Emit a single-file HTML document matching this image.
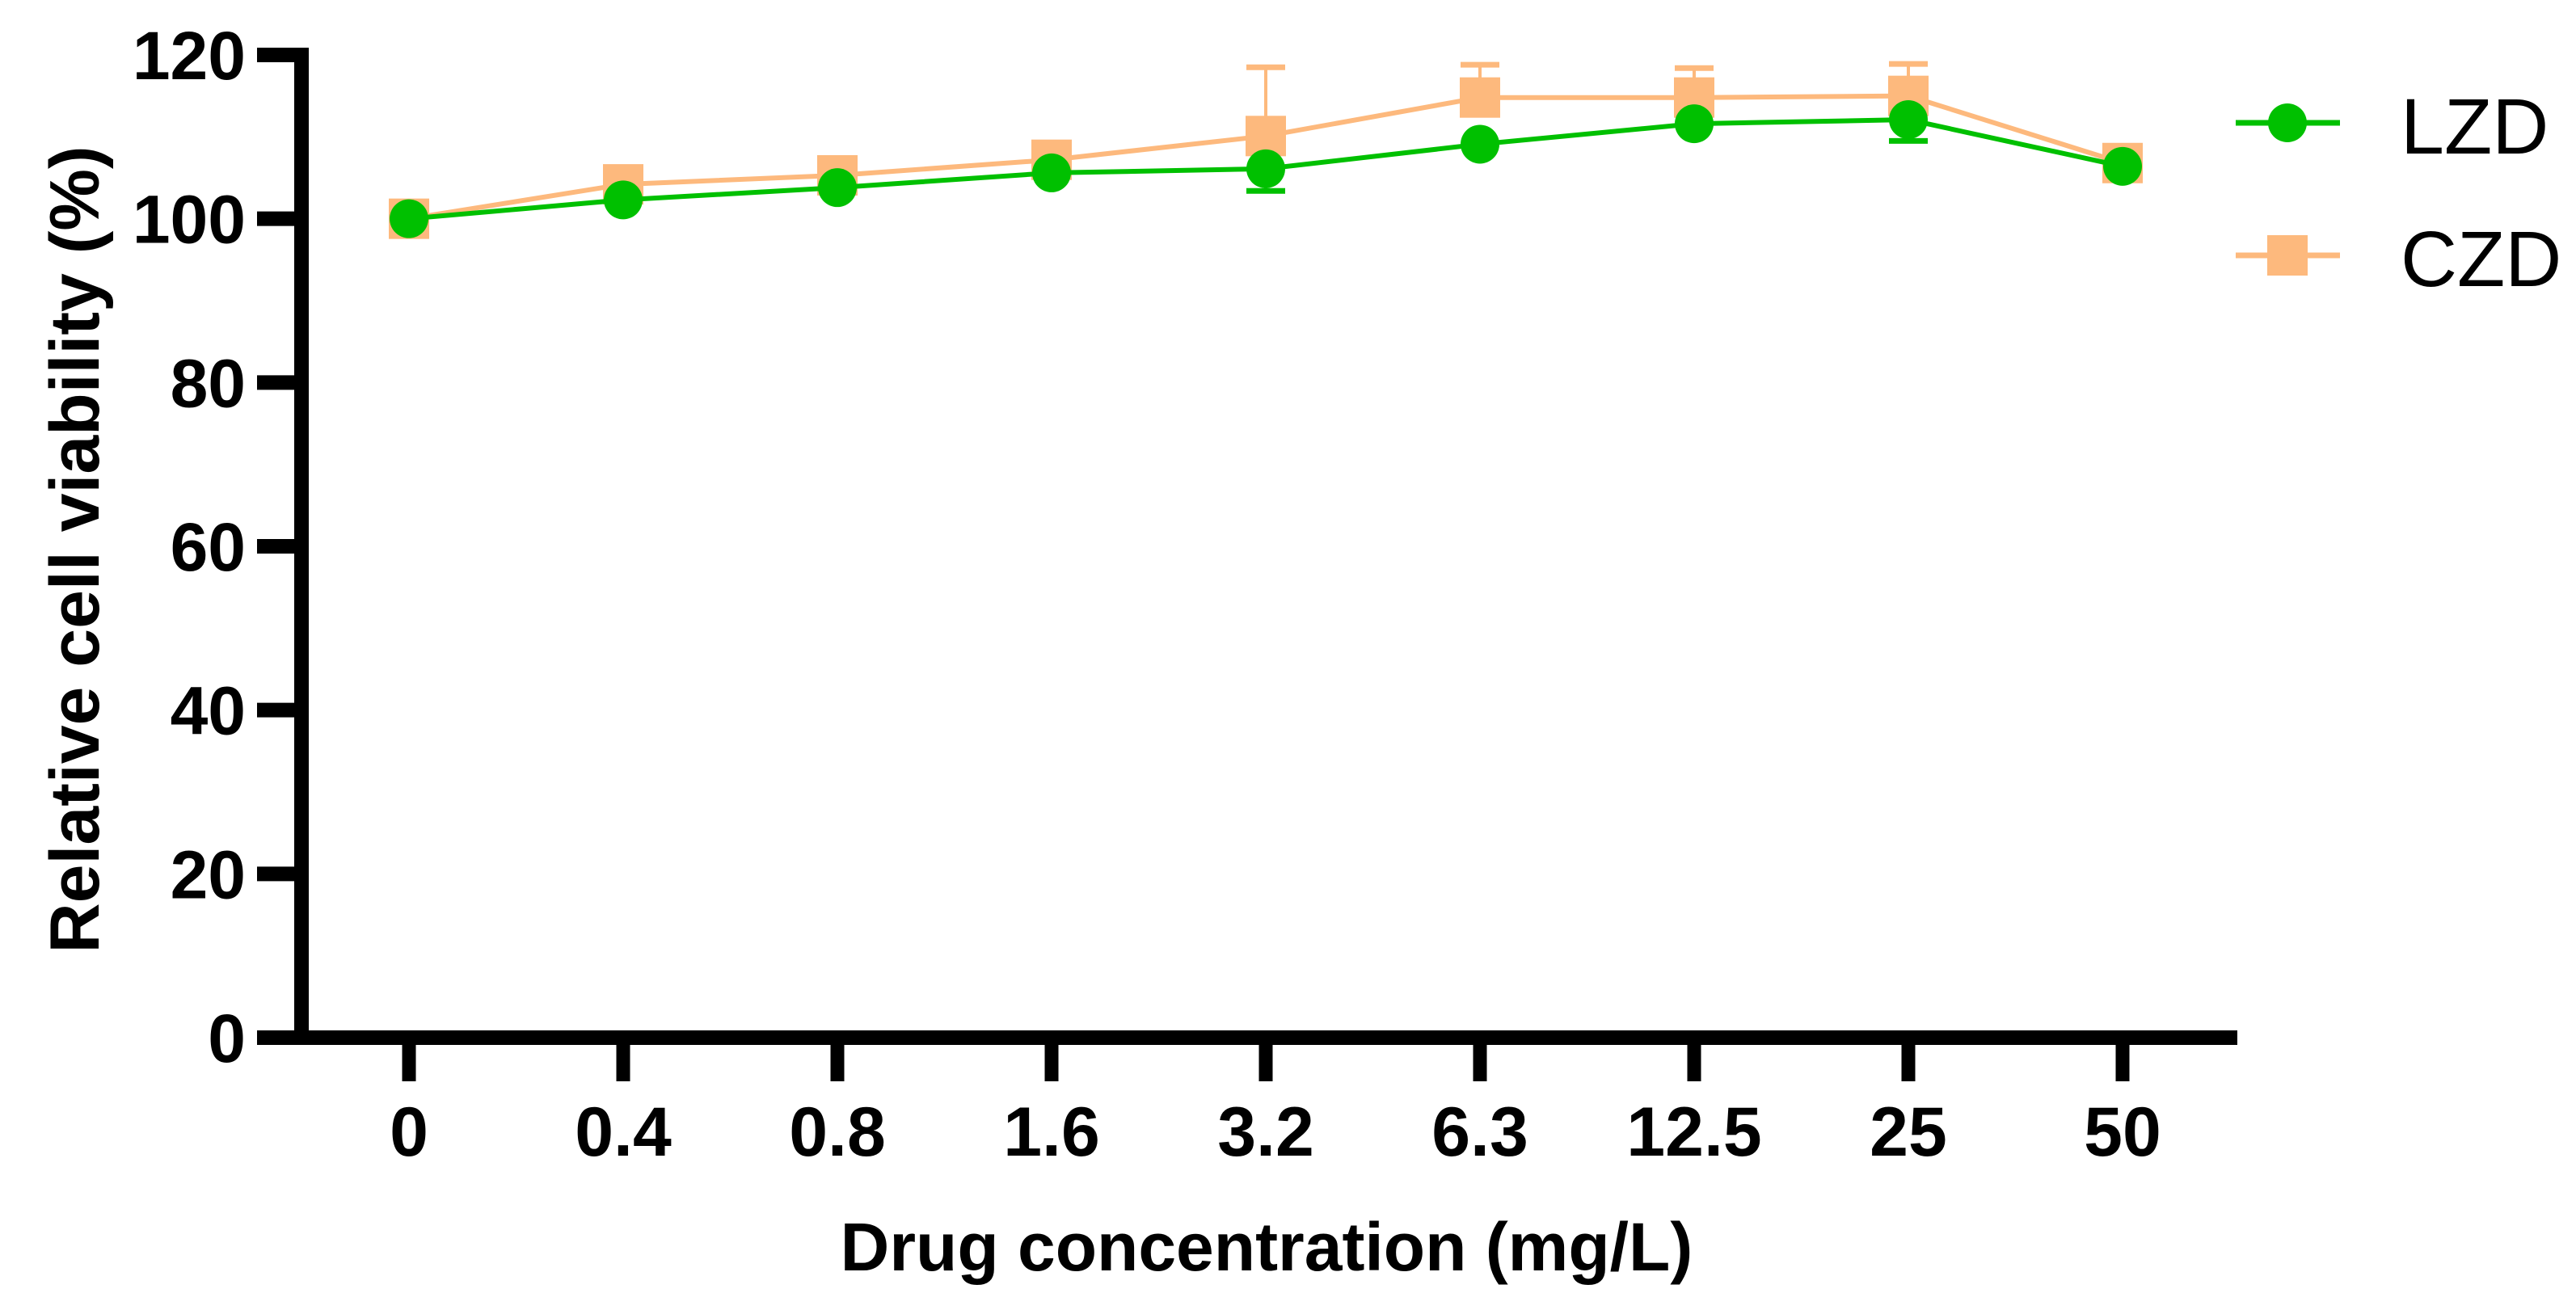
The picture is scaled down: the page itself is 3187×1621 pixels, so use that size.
<!DOCTYPE html>
<html><head><meta charset="utf-8"><style>
html,body{margin:0;padding:0;background:#fff;}
svg{display:block;}
text{font-family:"Liberation Sans",Arial,sans-serif;}
</style></head><body>
<svg id="chart" width="3187" height="1621" viewBox="0 0 3187 1621" xmlns="http://www.w3.org/2000/svg">
<g id="axes"></g>
<g id="series"></g>
<text transform="translate(122,680) rotate(-90)" text-anchor="middle" font-size="86" font-weight="bold">Relative cell viability (%)</text>
<text x="1567" y="1572" text-anchor="middle" font-size="84" font-weight="bold">Drug concentration (mg/L)</text>
<g>
  <g>
    <line x1="2766" y1="152" x2="2895" y2="152" stroke="#00C000" stroke-width="7"/>
    <circle cx="2830" cy="152" r="24" fill="#00C000"/>
    <text x="2970" y="190" font-size="97">LZD</text>
  </g>
  <g>
    <line x1="2766" y1="316" x2="2895" y2="316" stroke="#FDB97D" stroke-width="7"/>
    <rect x="2805" y="291" width="50" height="50" fill="#FDB97D"/>
    <text x="2970" y="354" font-size="97">CZD</text>
  </g>
</g>
</svg>
<script>
const categories = ["0","0.4","0.8","1.6","3.2","6.3","12.5","25","50"];
const lzdValues = [100,102.3,103.8,105.6,106.1,109.1,111.6,112.1,106.4];
const lzdErr = [0,0,0,0,2.7,0,0,2.6,0];
const czdValues = [100,104.2,105.3,107.2,110.1,114.8,114.8,115.0,106.8];
const czdErr = [0,0,0,0,8.4,4.0,3.6,3.9,0];
const yTicks = [0,20,40,60,80,100,120];

const NS = "http://www.w3.org/2000/svg";
const y0 = 1284, yPer = (1284-68)/120;
const xs = i => 506 + i*265;
const ys = v => y0 - v*yPer;
function mk(tag, attrs, parent){const e=document.createElementNS(NS,tag);for(const k in attrs)e.setAttribute(k,attrs[k]);parent.appendChild(e);return e;}
const axes = document.getElementById('axes');
const series = document.getElementById('series');

let yl = mk('line',{x1:373,y1:ys(120)-9,x2:373,y2:1293,stroke:'#000','stroke-width':18},axes);


let xl = mk('line',{x1:364,y1:1284,x2:2768,y2:1284,stroke:'#000','stroke-width':18},axes);


yTicks.forEach(t=>{
  const tk = mk('line',{x1:318,y1:ys(t),x2:373,y2:ys(t),stroke:'#000','stroke-width':18},axes);
  
  
  const lb = mk('text',{x:304,y:ys(t)+30,'text-anchor':'end','font-size':84,'font-weight':'bold'},axes);
  lb.textContent = t;
  
  
});
categories.forEach((c,i)=>{
  const tk = mk('line',{x1:xs(i),y1:1284,x2:xs(i),y2:1338,stroke:'#000','stroke-width':17},axes);
  
  
  const lb = mk('text',{x:xs(i),y:1430,'text-anchor':'middle','font-size':86,'font-weight':'bold'},axes);
  lb.textContent = c;
  
  
});

function drawSeries(vals, errs, color, dir, marker, name){
  const g = mk('g',{},series);
  
  
  vals.forEach((v,i)=>{
    if(errs[i]>0){
      const ye = ys(v + dir*errs[i]);
      const el = mk('line',{x1:xs(i),y1:ys(v),x2:xs(i),y2:ye,stroke:color,'stroke-width':4},g);
      
      
      const cap = mk('line',{x1:xs(i)-24,y1:ye,x2:xs(i)+24,y2:ye,stroke:color,'stroke-width':7},g);
      
      
    }
  });
  const pts = vals.map((v,i)=>xs(i)+','+ys(v)).join(' ');
  const pl = mk('polyline',{points:pts,fill:'none',stroke:color,'stroke-width':6},g);
  
  
  vals.forEach((v,i)=>{
    let m;
    if(marker==='circle') m = mk('circle',{cx:xs(i),cy:ys(v),r:24,fill:color},g);
    else m = mk('rect',{x:xs(i)-25,y:ys(v)-25,width:50,height:50,fill:color},g);
    
    
  });
}
drawSeries(czdValues, czdErr, '#FDB97D', 1, 'square', 'czd');
drawSeries(lzdValues, lzdErr, '#00C000', -1, 'circle', 'lzd');
</script>
</body></html>
